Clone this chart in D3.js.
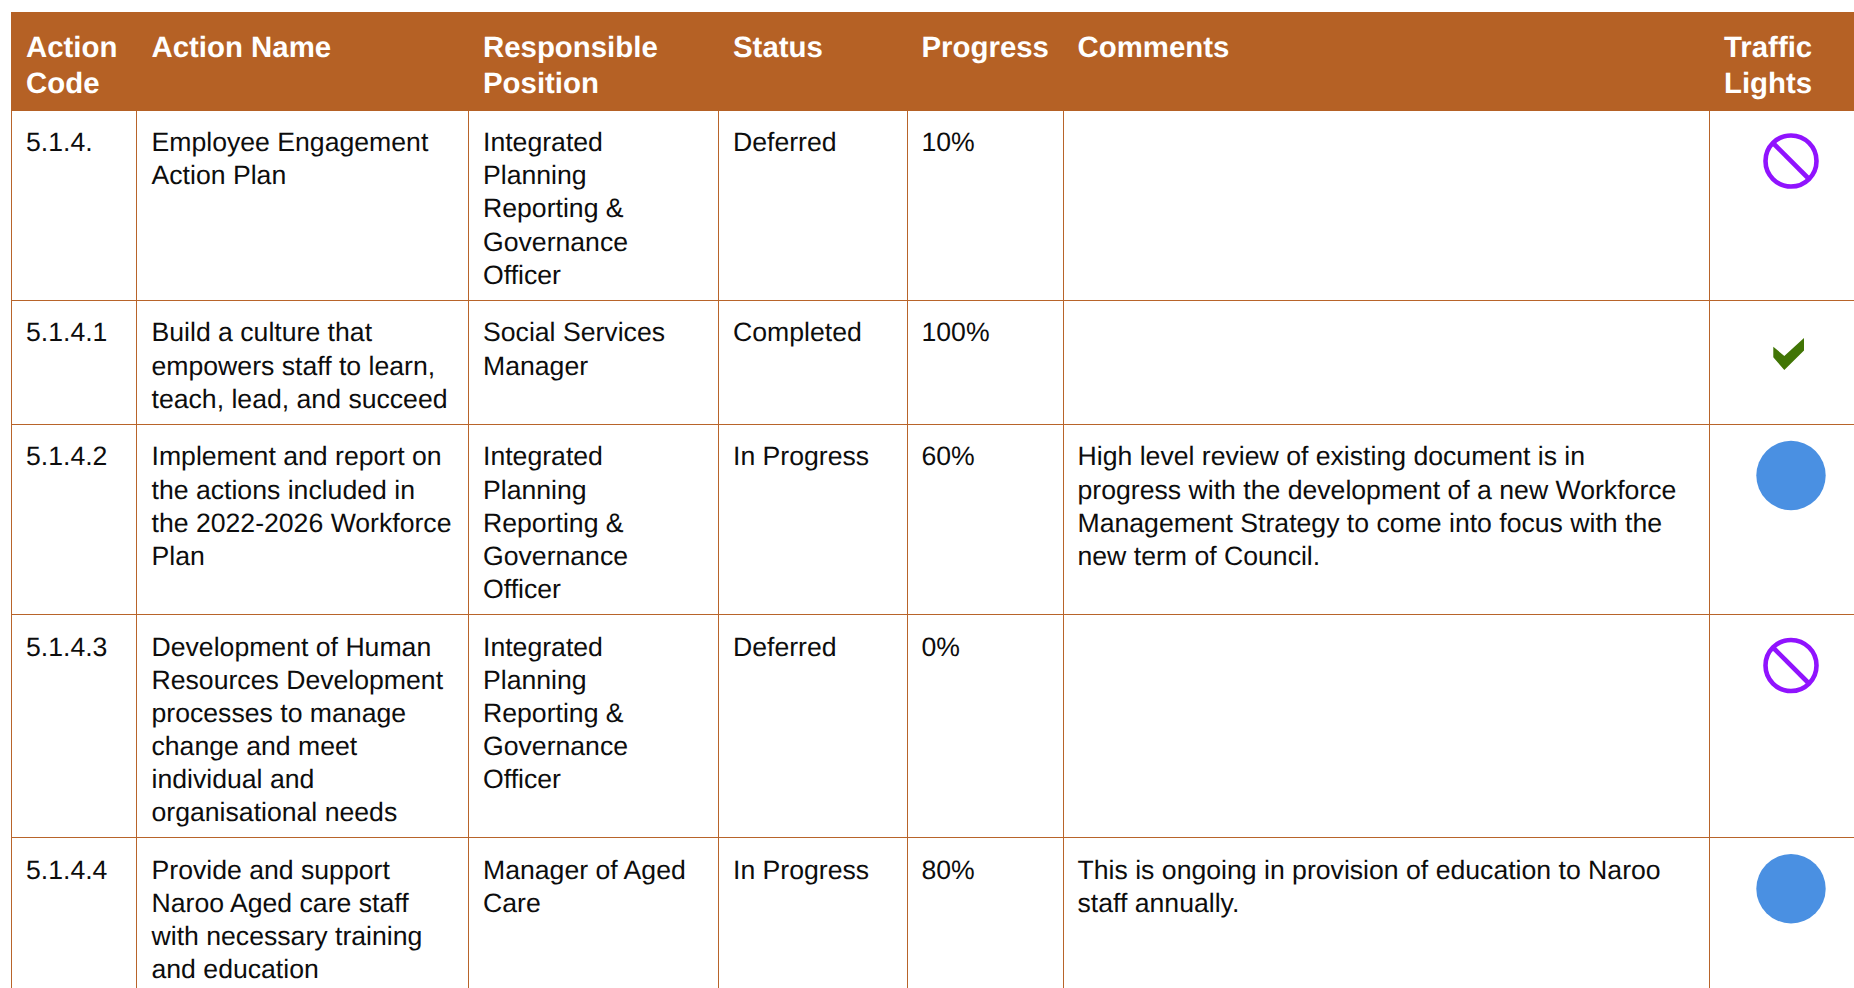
<!DOCTYPE html>
<html><head><meta charset="utf-8">
<script src="https://cdnjs.cloudflare.com/ajax/libs/d3/7.8.5/d3.min.js"></script>
<style>html,body{margin:0;padding:0;background:#fff;overflow:hidden}svg{display:block}text{font-family:"Liberation Sans",Arial,sans-serif;text-rendering:geometricPrecision;font-variant-ligatures:none}</style>
</head><body><div id="c"></div>
<script>
const headers = [["Action","Code"],["Action Name"],["Responsible","Position"],["Status"],["Progress"],["Comments"],["Traffic","Lights"]];
const codes = ["5.1.4.","5.1.4.1","5.1.4.2","5.1.4.3","5.1.4.4"];
const names = [
 ["Employee Engagement","Action Plan"],
 ["Build a culture that","empowers staff to learn,","teach, lead, and succeed"],
 ["Implement and report on","the actions included in","the 2022-2026 Workforce","Plan"],
 ["Development of Human","Resources Development","processes to manage","change and meet","individual and","organisational needs"],
 ["Provide and support","Naroo Aged care staff","with necessary training","and education"]];
const positions = [
 ["Integrated","Planning","Reporting &","Governance","Officer"],
 ["Social Services","Manager"],
 ["Integrated","Planning","Reporting &","Governance","Officer"],
 ["Integrated","Planning","Reporting &","Governance","Officer"],
 ["Manager of Aged","Care"]];
const statuses = ["Deferred","Completed","In Progress","Deferred","In Progress"];
const progress = ["10%","100%","60%","0%","80%"];
const comments = [[],[],
 ["High level review of existing document is in","progress with the development of a new Workforce","Management Strategy to come into focus with the","new term of Council."],
 [],
 ["This is ongoing in provision of education to Naroo","staff annually."]];
const lights = ["deferred","done","progress","deferred","progress"];

const W=1854,H=988;
const colEdges=[11.5,136.5,468.5,718.5,907.5,1063.5,1709.5];
const textX=[26,151.5,483,733,921.5,1077.5,1724];
const rowEdges=[111,300.5,424.5,614.5,837.5];
const firstBase=[151,341.4,465.4,655.5,878.7];
const iconY=[161,359,475.5,665.5,888.7];
const line="#B8642A", head="#B56125";
const x=d3.scaleOrdinal().domain(d3.range(7)).range(colEdges);
const tx=d3.scaleOrdinal().domain(d3.range(7)).range(textX);
const y=d3.scaleOrdinal().domain(d3.range(5)).range(rowEdges);
const svg=d3.select("#c").append("svg").attr("width",W).attr("height",H).attr("viewBox",`0 0 ${W} ${H}`);
svg.append("rect").attr("x",11).attr("y",12).attr("width",W-11).attr("height",99).attr("fill",head);
const g=svg.append("g").attr("stroke",line).attr("stroke-width",1);
g.selectAll(".v").data(d3.range(7)).join("line").attr("x1",x).attr("x2",x).attr("y1",111).attr("y2",H);
g.selectAll(".h").data(d3.range(1,5)).join("line").attr("x1",11).attr("x2",W).attr("y1",y).attr("y2",y);

headers.forEach((h,c)=>{
  svg.append("g").selectAll("text").data(h).join("text")
   .attr("x",tx(c)).attr("y",(d,i)=>57+i*36)
   .attr("fill","#fff").attr("font-weight","bold").attr("font-size",29.4).text(d=>d);
});
const cell=(lines,c,r)=>svg.append("g").selectAll("text").data(lines).join("text")
   .attr("x",tx(c)).attr("y",(d,i)=>Math.round(firstBase[r]+i*33.19))
   .attr("fill","#0d0d0d").attr("font-size",26.63).text(d=>d);
codes.forEach((v,r)=>{
  cell([v],0,r);cell(names[r],1,r);cell(positions[r],2,r);
  cell([statuses[r]],3,r);cell([progress[r]],4,r);cell(comments[r],5,r);
  const ic=svg.append("g").attr("transform",`translate(1791,${iconY[r]})`);
  if(lights[r]==="deferred"){
    ic.append("circle").attr("r",25.5).attr("fill","none").attr("stroke","#9013FE").attr("stroke-width",4.6);
    ic.append("line").attr("x1",-18).attr("y1",-18).attr("x2",18).attr("y2",18).attr("stroke","#9013FE").attr("stroke-width",4.6);
  } else if(lights[r]==="progress"){
    ic.append("circle").attr("r",34.7).attr("fill","#4A90E2");
  } else {
    ic.append("path").attr("d",d3.line()([[-17.7,-12.3],[-6.7,-3],[13,-21],[13,-8.5],[-6.7,11],[-17.7,-1.7]])).attr("fill","#417505");
  }
});
</script></body></html>
